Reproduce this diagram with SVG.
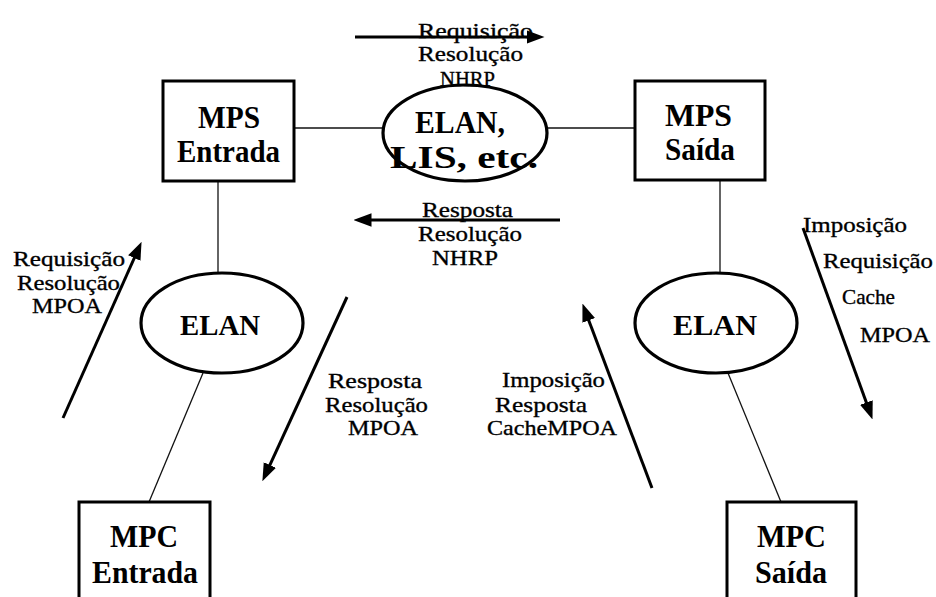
<svg xmlns="http://www.w3.org/2000/svg" width="936" height="597" viewBox="0 0 936 597">
<style>
.box{fill:#fff;stroke:#000;stroke-width:3}
.ell{fill:#fff;stroke:#000;stroke-width:3.2}
.link{stroke:#111;stroke-width:1.3;fill:none}
.arr{stroke:#000;stroke-width:3;fill:none;marker-end:url(#ah)}
.nt{font-family:"Liberation Serif","Times New Roman",serif;font-weight:bold;font-size:32px;fill:#000}
.lb{font-family:"Liberation Serif","Times New Roman",serif;font-size:22px;fill:#000;stroke:#000;stroke-width:0.35}
</style>
<defs>
<marker id="ah" markerUnits="userSpaceOnUse" markerWidth="18" markerHeight="14" refX="4" refY="6" orient="auto" viewBox="0 0 16 12">
<path d="M0,0 L16,6 L0,12 z" fill="#000"/>
</marker>
</defs>
<rect width="936" height="597" fill="#fff"/>
<g id="connectors">
<line class="link" x1="294" y1="128" x2="384" y2="128"/>
<line class="link" x1="546" y1="128" x2="635" y2="128"/>
<line class="link" x1="218" y1="181" x2="218" y2="273"/>
<line class="link" x1="720" y1="180" x2="720" y2="273"/>
<line class="link" x1="203" y1="373" x2="149" y2="502"/>
<line class="link" x1="728" y1="373" x2="781" y2="502"/>
</g>
<g id="mps-entrada">
<rect class="box" x="163" y="81" width="131" height="100"/>
<text class="nt" x="198" y="128" textLength="62" lengthAdjust="spacingAndGlyphs">MPS</text>
<text class="nt" x="177" y="162" textLength="103" lengthAdjust="spacingAndGlyphs">Entrada</text>
</g>
<g id="elan-lis">
<ellipse class="ell" cx="465" cy="133" rx="82" ry="48"/>
<text class="nt" x="415" y="133" textLength="90" lengthAdjust="spacingAndGlyphs">ELAN,</text>
<text class="nt" x="390" y="168" textLength="148" lengthAdjust="spacingAndGlyphs">LIS, etc.</text>
</g>
<g id="mps-saida">
<rect class="box" x="635" y="81" width="130" height="99"/>
<text class="nt" x="665" y="126" textLength="67" lengthAdjust="spacingAndGlyphs">MPS</text>
<text class="nt" x="665" y="160" textLength="70" lengthAdjust="spacingAndGlyphs">Saída</text>
</g>
<g id="elan-left">
<ellipse class="ell" cx="222" cy="323" rx="81" ry="50"/>
<text class="nt" x="180" y="335" style="font-size:29px" textLength="80" lengthAdjust="spacingAndGlyphs">ELAN</text>
</g>
<g id="elan-right">
<ellipse class="ell" cx="716" cy="323" rx="81" ry="50"/>
<text class="nt" x="673" y="335" style="font-size:29px" textLength="84" lengthAdjust="spacingAndGlyphs">ELAN</text>
</g>
<g id="mpc-entrada">
<rect class="box" x="79" y="502" width="131" height="110"/>
<text class="nt" x="110" y="547" textLength="68" lengthAdjust="spacingAndGlyphs">MPC</text>
<text class="nt" x="92" y="583" textLength="106" lengthAdjust="spacingAndGlyphs">Entrada</text>
</g>
<g id="mpc-saida">
<rect class="box" x="727" y="502" width="129" height="110"/>
<text class="nt" x="757" y="547" textLength="69" lengthAdjust="spacingAndGlyphs">MPC</text>
<text class="nt" x="755" y="583" textLength="72" lengthAdjust="spacingAndGlyphs">Saída</text>
</g>
<g id="arrows">
<line class="arr" x1="355" y1="37" x2="531" y2="37"/>
<line class="arr" x1="560" y1="220" x2="367" y2="220"/>
<line class="arr" x1="63" y1="418" x2="136.1" y2="254"/>
<line class="arr" x1="347" y1="297" x2="268" y2="469.1"/>
<line class="arr" x1="652" y1="488" x2="587.2" y2="316.2"/>
<line class="arr" x1="803" y1="228" x2="867.9" y2="406.7"/>
</g>
<g id="labels">
<text class="lb" x="418" y="38" textLength="115" lengthAdjust="spacingAndGlyphs">Requisição</text>
<text class="lb" x="418" y="61" textLength="105" lengthAdjust="spacingAndGlyphs">Resolução</text>
<text class="lb" x="440" y="86" textLength="55" lengthAdjust="spacingAndGlyphs">NHRP</text>
<text class="lb" x="422" y="217" textLength="91" lengthAdjust="spacingAndGlyphs">Resposta</text>
<text class="lb" x="418" y="241" textLength="104" lengthAdjust="spacingAndGlyphs">Resolução</text>
<text class="lb" x="432" y="265" textLength="66" lengthAdjust="spacingAndGlyphs">NHRP</text>
<text class="lb" x="13" y="266" textLength="112" lengthAdjust="spacingAndGlyphs">Requisição</text>
<text class="lb" x="17" y="290" textLength="103" lengthAdjust="spacingAndGlyphs">Resolução</text>
<text class="lb" x="32" y="313" textLength="70" lengthAdjust="spacingAndGlyphs">MPOA</text>
<text class="lb" x="328" y="388" textLength="94" lengthAdjust="spacingAndGlyphs">Resposta</text>
<text class="lb" x="325" y="412" textLength="103" lengthAdjust="spacingAndGlyphs">Resolução</text>
<text class="lb" x="348" y="435" textLength="70" lengthAdjust="spacingAndGlyphs">MPOA</text>
<text class="lb" x="502" y="387" textLength="103" lengthAdjust="spacingAndGlyphs">Imposição</text>
<text class="lb" x="495" y="412" textLength="92" lengthAdjust="spacingAndGlyphs">Resposta</text>
<text class="lb" x="487" y="435" textLength="130" lengthAdjust="spacingAndGlyphs">CacheMPOA</text>
<text class="lb" x="803" y="232" textLength="104" lengthAdjust="spacingAndGlyphs">Imposição</text>
<text class="lb" x="823" y="268" textLength="110" lengthAdjust="spacingAndGlyphs">Requisição</text>
<text class="lb" x="842" y="304" textLength="53" lengthAdjust="spacingAndGlyphs">Cache</text>
<text class="lb" x="860" y="342" textLength="70" lengthAdjust="spacingAndGlyphs">MPOA</text>
</g>
</svg>
